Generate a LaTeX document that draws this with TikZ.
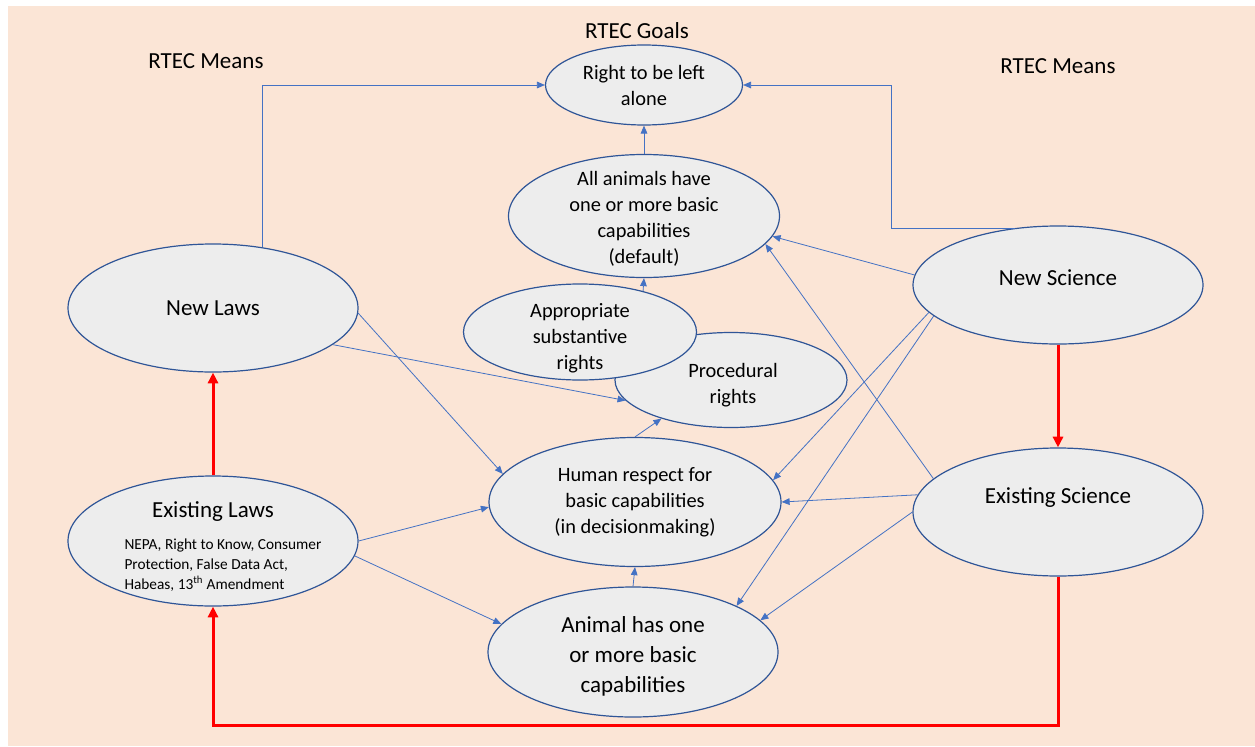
\documentclass[tikz,border=0pt]{standalone}
\usepackage{fontspec}
\setmainfont{Carlito}
\usetikzlibrary{arrows.meta,shapes.geometric}

\definecolor{peach}{HTML}{FBE5D6}
\definecolor{ovalfill}{HTML}{EDEDED}
\definecolor{ovaledge}{HTML}{2F5597}
\definecolor{linkblue}{HTML}{4472C4}

\newcommand{\ovalbig}{\fontsize{17.25}{22.5}\selectfont}
\newcommand{\ovalmid}{\fontsize{15.3}{19.5}\selectfont}
\newcommand{\ovalsmall}{\fontsize{11.5}{15}\selectfont}

\begin{document}
\begin{tikzpicture}[x=0.75pt,y=-0.75pt,
	oval/.style={shape=ellipse,draw=ovaledge,line width=0.9pt,fill=ovalfill,inner sep=0pt},
	ovaltext/.style={align=center,font=\ovalmid,inner sep=0pt},
	link/.style={color=linkblue,line width=0.6pt,-{Triangle[length=6pt,width=5pt]}},
	redlink/.style={color=red,line width=2.25pt,-{Triangle[length=8pt,width=7.5pt]}}]
	\useasboundingbox (0,0) rectangle (1255,746);
	\fill[peach] (8,6) rectangle (1255,746);

	\node[font=\ovalbig] (meansleft) at (206,61) {RTEC Means};
	\node[font=\ovalbig] (goalstitle) at (637,31) {RTEC Goals};
	\node[font=\ovalbig] (meansright) at (1058,66) {RTEC Means};

	\node[oval,minimum width=147.75pt,minimum height=60pt,label={[ovaltext]center:Right to be left\\alone}] (goal) at (644,85) {};
	\node[oval,minimum width=203.25pt,minimum height=92.25pt,label={[ovaltext,yshift=-2pt]center:All animals have\\one or more basic\\capabilities\\(default)}] (allanimals) at (644,216) {};
	\node[oval,minimum width=174pt,minimum height=71.25pt,label={[ovaltext,xshift=1.5pt,yshift=-4pt]center:Procedural\\rights}] (procedural) at (731,380) {};
	\node[oval,minimum width=174.75pt,minimum height=72pt,label={[ovaltext,yshift=-5pt]center:Appropriate\\substantive\\rights}] (substantive) at (580,332) {};
	\node[oval,minimum width=219pt,minimum height=96.75pt,label={[ovaltext]center:Human respect for\\basic capabilities\\(in decisionmaking)}] (respect) at (635,502) {};
	\node[oval,minimum width=217.5pt,minimum height=97.5pt,label={[ovaltext,font=\ovalbig,yshift=-3pt]center:Animal has one\\or more basic\\capabilities}] (animal) at (633,652) {};
	\node[oval,minimum width=217.5pt,minimum height=96pt,label={[ovaltext,font=\ovalbig]center:New Laws}] (newlaws) at (213,308) {};
	\node[oval,minimum width=217.5pt,minimum height=97.5pt,label={[ovaltext,font=\ovalbig,yshift=21.75pt]center:Existing Laws},label={[ovaltext,align=left,font=\ovalsmall,xshift=7.5pt,yshift=-18pt]center:NEPA, Right to Know, Consumer\\Protection, False Data Act,\\Habeas, 13\textsuperscript{th} Amendment}] (exlaws) at (213,541) {};
	\node[oval,minimum width=217.5pt,minimum height=88.5pt,label={[ovaltext,font=\ovalbig,yshift=5.25pt]center:New Science}] (newscience) at (1058,285) {};
	\node[oval,minimum width=217.5pt,minimum height=96pt,label={[ovaltext,font=\ovalbig,yshift=10.5pt]center:Existing Science}] (exscience) at (1058,512) {};

	\coordinate (scibend) at (891,85);
	\coordinate (redcorner) at (213,725);

	\draw[link] (newlaws.51) |- (goal.west);
	\draw[link] (newscience.127) -| (scibend) -- (goal.east);

	\path [link]
	(allanimals.north) edge (goal.south)
	(substantive.33) edge (allanimals.south)
	(respect.north) edge (procedural.209)
	(animal.north) edge (respect.south)
	(newlaws.-2) edge (respect.168)
	(newlaws.-17) edge (procedural.191)
	(exlaws.east) edge (respect.182)
	(exlaws.-6) edge (animal.168)
	(newscience.176) edge (allanimals.-9)
	(newscience.192) edge (respect.9)
	(newscience.194) edge (animal.24)
	(exscience.165) edge (allanimals.-13)
	(exscience.173) edge (respect.east)
	(exscience.west) edge (animal.14);

	\draw[redlink] (exlaws.north) -- (newlaws.south);
	\draw[redlink] (newscience.south) -- (exscience.north);
	\draw[redlink] (exscience.south) |- (redcorner) -- (exlaws.south);
\end{tikzpicture}
\end{document}
